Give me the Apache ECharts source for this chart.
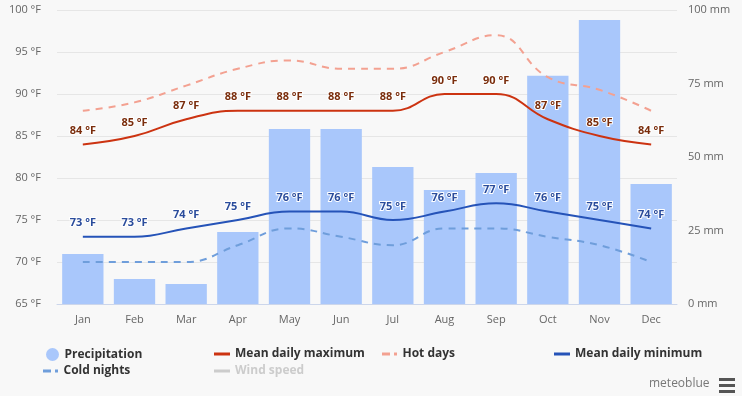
<!DOCTYPE html>
<html>
<head>
<meta charset="utf-8">
<script src="https://cdn.jsdelivr.net/npm/echarts@6/dist/echarts.min.js"></script>
<style>
  html, body { margin: 0; padding: 0; background: #f8f8f8; }
  #chart { width: 742px; height: 396px; }
</style>
</head>
<body>
<div id="chart"></div>
<script>
const months = ['Jan', 'Feb', 'Mar', 'Apr', 'May', 'Jun', 'Jul', 'Aug', 'Sep', 'Oct', 'Nov', 'Dec'];
const precipitation = [17, 8.5, 6.8, 24.5, 59.5, 59.5, 46.6, 38.8, 44.6, 77.6, 96.6, 40.8];
const meanMax = [84, 85, 87, 88, 88, 88, 88, 90, 90, 87, 85, 84];
const hotDays = [88, 89, 91, 93, 94, 93, 93, 95, 97, 92, 90.5, 88];
const meanMin = [73, 73, 74, 75, 76, 76, 75, 76, 77, 76, 75, 74];
const coldNights = [70, 70, 70, 72, 74, 73, 72, 74, 74, 73, 72, 70];
const tempTicks = [65, 100, 5];   // min, max, step
const rainTicks = [0, 100, 25];

const FONT = '"Open Sans", "DejaVu Sans", sans-serif';
const LINE_ICON = 'path://M0,0h16v3h-16z';
const DASH_ICON = 'path://M0,0h8v3h-8z M12,0h3v3h-3z';

let myChart = echarts.init(document.getElementById('chart'));

// one small legend per item so they can sit in columns like the original
function legendAt(name, left, top, icon, w, h) {
  return {
    data: [name],
    left: left,
    top: top,
    icon: icon,
    itemWidth: w,
    itemHeight: h,
    itemGap: 4,
    inactiveColor: '#cccccc',
    selected: { 'Wind speed': false },
    selectedMode: false,
    textStyle: { fontFamily: FONT, fontSize: 12, fontWeight: 'bold', color: '#333333' }
  };
}

function tempLabel(color) {
  return {
    show: true, position: 'top', distance: 8,
    formatter: '{c} °F',
    color: color, fontSize: 11, fontWeight: 'bold',
    textBorderColor: '#ffffff', textBorderWidth: 2
  };
}

let option = {
  backgroundColor: '#f8f8f8',
  animation: false,
  textStyle: { fontFamily: FONT },
  grid: { left: 57, right: 65, top: 10, bottom: 92 },
  legend: [
    legendAt('Precipitation', 41, 343, 'circle', 14, 13),
    legendAt('Mean daily maximum', 209, 343, LINE_ICON, 16, 3),
    legendAt('Hot days', 377, 343, DASH_ICON, 16, 3),
    legendAt('Mean daily minimum', 549, 343, LINE_ICON, 16, 3),
    legendAt('Cold nights', 38, 360, DASH_ICON, 16, 3),
    legendAt('Wind speed', 209, 360, LINE_ICON, 16, 3)
  ],
  xAxis: {
    type: 'category',
    data: months,
    axisLine: { lineStyle: { color: '#ccd6eb' } },
    axisTick: { show: false },
    axisLabel: { color: '#666666', fontSize: 11, margin: 10 }
  },
  yAxis: [
    {
      type: 'value',
      min: tempTicks[0], max: tempTicks[1], interval: tempTicks[2],
      axisLabel: { formatter: '{value} °F', color: '#666666', fontSize: 11, margin: 16 },
      splitLine: { lineStyle: { color: '#e6e6e6' } },
      axisLine: { show: false },
      axisTick: { show: false }
    },
    {
      type: 'value',
      min: rainTicks[0], max: rainTicks[1], interval: rainTicks[2],
      axisLabel: { formatter: '{value} mm', color: '#666666', fontSize: 11, margin: 11 },
      splitLine: { show: false },
      axisLine: { show: false },
      axisTick: { show: false }
    }
  ],
  series: [
    {
      name: 'Precipitation',
      type: 'bar',
      yAxisIndex: 1,
      barCategoryGap: '20%',
      itemStyle: { color: '#a9c7fb' },
      data: precipitation,
      z: 1
    },
    {
      name: 'Mean daily maximum',
      type: 'line',
      smooth: 0.45,
      symbol: 'circle',
      symbolSize: 0.1,
      lineStyle: { color: '#cc3311', width: 2 },
      itemStyle: { color: '#cc3311' },
      label: tempLabel('#7a2d0c'),
      data: meanMax,
      z: 4
    },
    {
      name: 'Hot days',
      type: 'line',
      smooth: 0.45,
      symbol: 'none',
      lineStyle: { color: '#f3a191', width: 2, type: [7, 6] },
      itemStyle: { color: '#f3a191' },
      data: hotDays,
      z: 3
    },
    {
      name: 'Mean daily minimum',
      type: 'line',
      smooth: 0.45,
      symbol: 'circle',
      symbolSize: 0.1,
      lineStyle: { color: '#2553b8', width: 2 },
      itemStyle: { color: '#2553b8' },
      label: tempLabel('#2a4c9c'),
      data: meanMin,
      z: 4
    },
    {
      name: 'Cold nights',
      type: 'line',
      smooth: 0.45,
      symbol: 'none',
      lineStyle: { color: '#6f9edb', width: 2, type: [7, 6] },
      itemStyle: { color: '#6f9edb' },
      data: coldNights,
      z: 3
    },
    {
      name: 'Wind speed',
      type: 'line',
      symbol: 'none',
      lineStyle: { color: '#cccccc', width: 2 },
      itemStyle: { color: '#cccccc' },
      data: []
    }
  ],
  graphic: [
    {
      type: 'text', left: 649, top: 378,
      style: { text: 'meteoblue', fill: '#777777', font: '12px ' + FONT }
    },
    { type: 'rect', left: 719, top: 378, shape: { width: 16, height: 3 }, style: { fill: '#555555' } },
    { type: 'rect', left: 719, top: 384, shape: { width: 16, height: 3 }, style: { fill: '#555555' } },
    { type: 'rect', left: 719, top: 390, shape: { width: 16, height: 3 }, style: { fill: '#555555' } }
  ]
};

myChart.setOption(option);
</script>
</body>
</html>
